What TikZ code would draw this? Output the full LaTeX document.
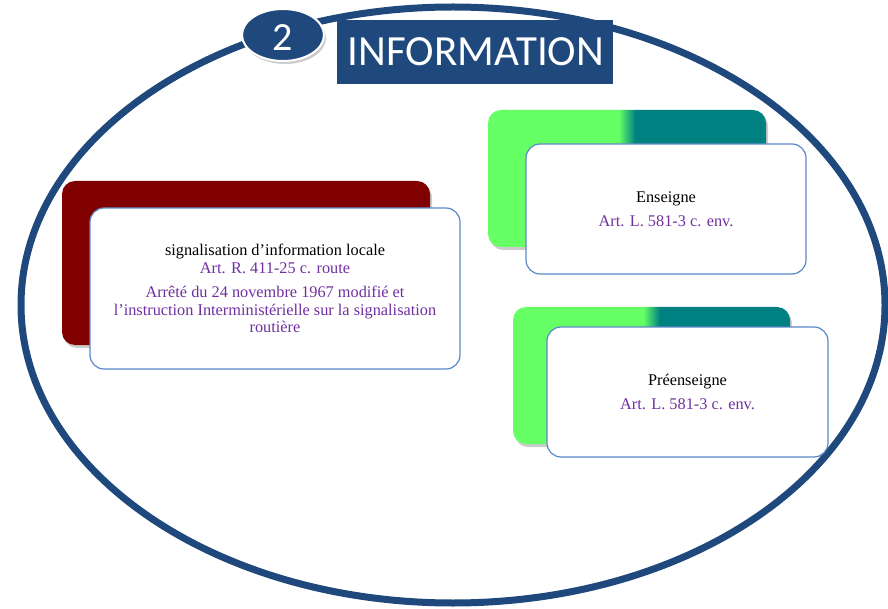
\documentclass[tikz,border=0pt]{standalone}
\usepackage{fontspec}
\setmainfont{Liberation Serif}
\newfontfamily\calib{Carlito}
\usetikzlibrary{shadows,shapes.geometric}
\definecolor{dblue}{HTML}{1F497D}
\definecolor{bord}{HTML}{5A88C6}
\definecolor{purp}{HTML}{7030A0}
\definecolor{dred}{HTML}{800000}
\definecolor{lgreen}{HTML}{66FF66}
\definecolor{dteal}{HTML}{008080}
\pgfdeclarehorizontalshading{gshade}{100bp}{color(0bp)=(lgreen); color(48.5bp)=(lgreen); color(51.5bp)=(dteal); color(100bp)=(dteal)}
\begin{document}
\begin{tikzpicture}[x=1pt,y=-1pt,
  shad/.style={drop shadow={shadow xshift=2pt,shadow yshift=-3pt,opacity=0.2,fill=black}},
  card/.style={draw=bord,line width=1.2pt,fill=white,rounded corners=14pt,inner sep=0pt,align=center,
    font=\fontsize{16.3}{17.5}\selectfont},
  redback/.style={fill=dred,rounded corners=13pt,inner sep=0pt,shad},
  greenback/.style={rounded corners=13pt,inner sep=0pt,shad,shading=gshade}]
\useasboundingbox (0,0) rectangle (888,609);
% big ellipse
\draw[dblue,line width=7pt,drop shadow={shadow xshift=2pt,shadow yshift=-2pt,opacity=0.2,fill=none,draw=black}] (453,305) ellipse [x radius=432,y radius=298];
% title
\node[fill=dblue,minimum width=276,minimum height=64,inner sep=0pt] (title) at (475,52) {};
\node[text=white,font=\calib\fontsize{43}{43}\selectfont,inner sep=0pt,anchor=base] (titletext) at (476,66) {INFORMATION};
\node[ellipse,fill=dblue,draw=white,line width=2pt,minimum width=82,minimum height=52,inner sep=0pt,shad] (num) at (283,35) {};
\node[text=white,font=\calib\fontsize{40}{40}\selectfont,inner sep=0pt,anchor=base] (numtext) at (283,51) {2};
% left group
\node[redback,minimum width=368,minimum height=164] (r1) at (246,263) {};
\node[card,minimum width=370,minimum height=161] (c1) at (275,288.5) {%
signalisation d’information locale\\
\textcolor{purp}{Art. R. 411-25 c. route}\\[7pt]
\textcolor{purp}{Arrêté du 24 novembre 1967 modifié et}\\
\textcolor{purp}{l’instruction Interministérielle sur la signalisation}\\
\textcolor{purp}{routière}};
% top right group
\node[greenback,minimum width=278,minimum height=137] (g1) at (627,178.5) {};
\node[card,minimum width=280,minimum height=130] (c2) at (666,209) {%
Enseigne\\[7pt]
\textcolor{purp}{Art. L. 581-3 c. env.}};
% bottom right group
\node[greenback,minimum width=277,minimum height=137] (g2) at (651.5,375.5) {};
\node[card,minimum width=281,minimum height=130] (c3) at (687.5,392) {%
Préenseigne\\[7pt]
\textcolor{purp}{Art. L. 581-3 c. env.}};
\end{tikzpicture}
\end{document}
